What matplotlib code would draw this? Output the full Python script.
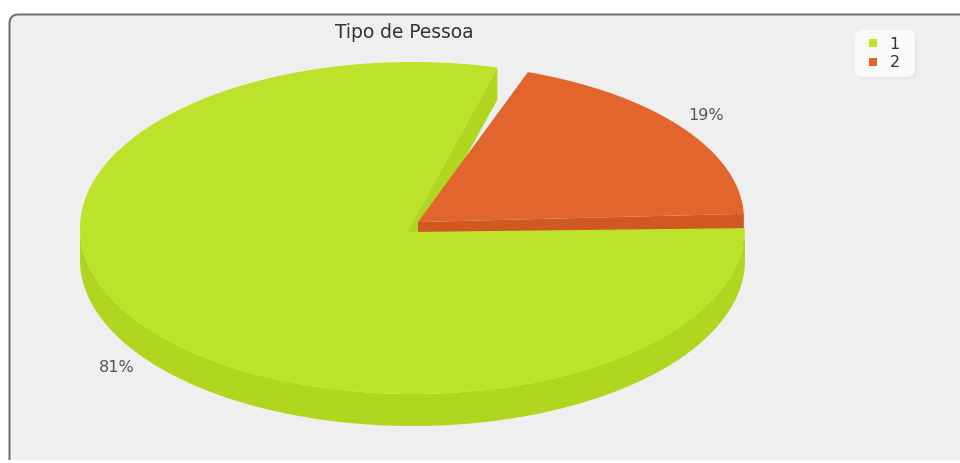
import matplotlib
matplotlib.use('Agg')
import matplotlib.pyplot as plt
import numpy as np
from matplotlib.lines import Line2D
from matplotlib.patches import FancyBboxPatch, Polygon

# slice sizes as measured on the drawing, the printed labels say 81% / 19%
categories = ['1', '2']
slice_shares = [79.1, 19.0]
slice_labels = ['81%', '19%']
title = 'Tipo de Pessoa'

GREEN = '#bce22c'
GREEN_SIDE = '#b0d61f'
ORANGE = '#e1652d'
ORANGE_SIDE = '#d25821'
PANEL = '#efefef'
DEPTH = 32


def arc(center, radii, start, sweep):
    """ Points along the pie's ellipse, angles in degrees, y going down in pixels """
    t = np.radians(np.linspace(start, start + sweep, 200))
    return np.column_stack([center[0] + radii[0] * np.cos(t), center[1] - radii[1] * np.sin(t)])


def main():
    fig = plt.figure(figsize=(9.6, 4.63), dpi=100, facecolor='white')
    # axes in pixels so the layout can be compared with the picture directly
    ax = fig.add_axes([0, 0, 1, 1])
    ax.set_xlim(0, 960)
    ax.set_ylim(463, 0)
    ax.axis('off')

    ax.add_patch(FancyBboxPatch((9.5, 14.5), 1000, 600, boxstyle='round,pad=0,rounding_size=9',
                                fc=PANEL, ec='#6b6b6b', lw=1.4))
    ax.add_patch(plt.Rectangle((0, 460), 960, 3, fc='white', ec='none', zorder=1))

    green_sweep = slice_shares[0] * 3.6
    orange_sweep = slice_shares[1] * 3.6

    green_c, green_r, green_tip = (412.5, 228), (332.5, 166), (407, 232)
    orange_c, orange_r, orange_tip = (418, 219), (326, 156), (418, 222)
    green_start = 75.2
    orange_start = 1.9

    # cut face of the green slice sits behind the orange one
    end = arc(green_c, green_r, green_start, 0)[0]
    ax.add_patch(Polygon([green_tip, end, end + [0, DEPTH], (green_tip[0], green_tip[1] + DEPTH)],
                         fc=GREEN_SIDE, ec='none', zorder=2))

    # orange slice
    orange_arc = arc(orange_c, orange_r, orange_start, orange_sweep)
    wall = np.vstack([orange_tip, orange_arc[0], orange_arc[0] + [0, DEPTH], (orange_tip[0], orange_tip[1] + DEPTH)])
    ax.add_patch(Polygon(wall, fc=ORANGE_SIDE, ec='none', zorder=3))
    ax.add_patch(Polygon(np.vstack([orange_tip, orange_arc]), fc=ORANGE, ec='none', zorder=4))

    # green slice, front wall first
    front = arc(green_c, green_r, 180, 180)
    ax.add_patch(Polygon(np.vstack([front, front[::-1] + [0, DEPTH]]), fc=GREEN_SIDE, ec='none', zorder=5))
    green_arc = arc(green_c, green_r, green_start, green_sweep)
    ax.add_patch(Polygon(np.vstack([green_tip, green_arc]), fc=GREEN, ec='none', zorder=6))

    ax.text(404, 33, title, ha='center', va='center', fontsize=13.4, color='#333333', zorder=8)
    ax.text(706, 115, slice_labels[1], ha='center', va='center', fontsize=11.5, color='#555555', zorder=8)
    ax.text(117, 368, slice_labels[0], ha='center', va='center', fontsize=11.5, color='#555555', zorder=8)

    # legend box and its soft shadow
    ax.add_patch(FancyBboxPatch((857, 32), 60, 47, boxstyle='round,pad=0,rounding_size=8',
                                fc='#e6e6e6', ec='none', zorder=8))
    ax.add_patch(FancyBboxPatch((855, 30), 60, 47, boxstyle='round,pad=0,rounding_size=8',
                                fc='#f9f9f9', ec='none', zorder=8))
    handles = [Line2D([], [], ls='none', marker='s', ms=6, mew=0, color=c) for c in (GREEN, ORANGE)]
    leg = ax.legend(handles, categories, loc='upper left', bbox_to_anchor=(864, 37), bbox_transform=ax.transData,
                    frameon=False, fontsize=11.5, handlelength=1.1, handletextpad=0.5, labelspacing=0.2,
                    borderpad=0, borderaxespad=0, labelcolor='#333333')
    leg.set_zorder(9)

    fig.savefig('out.png', dpi=100)


main()
